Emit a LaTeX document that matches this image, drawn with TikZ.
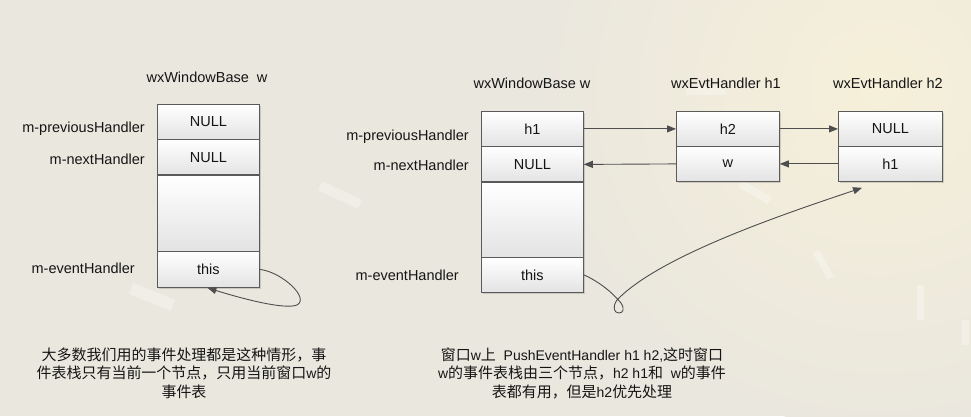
\documentclass[tikz,border=0pt]{standalone}
\usepackage{fontspec}
\setmainfont{Liberation Sans}
\newfontfamily\cjkfont[Scale=1.07]{Noto Sans CJK SC}
\newcommand\zh[1]{{\cjkfont #1}}
\usetikzlibrary{arrows.meta}

\definecolor{bgc}{HTML}{EAE7DE}
\definecolor{cream}{HTML}{F6F0DA}
\definecolor{boxline}{HTML}{5A5A5A}
\definecolor{cellbot}{HTML}{E3E3E3}
\definecolor{ink}{HTML}{151515}
\definecolor{wire}{HTML}{4E4E4E}

\begin{document}
\begin{tikzpicture}[x=1pt,y=-1pt,
  lab/.style={font=\fontsize{14.5}{16}\selectfont, text=ink, inner sep=0pt},
  cell/.style={draw=boxline, line width=0.8pt, top color=white, bottom color=cellbot,
    minimum width=102pt, inner sep=0pt, anchor=north west,
    font=\fontsize{14.5}{16}\selectfont, text=ink},
  shadowbox/.style={fill=black, opacity=0.14},
  streak/.style={fill=white, opacity=0.3},
  arr/.style={draw=wire, line width=0.9pt, -{Triangle[length=9pt,width=7pt]}},
  note/.style={align=center, text=ink, inner sep=0pt,
    font=\fontsize{14}{18.5}\selectfont}]

% background
\useasboundingbox (0,0) rectangle (971,416);
\fill[bgc] (0,0) rectangle (971,416);
\begin{scope}
\clip (0,0) rectangle (971,416);
\shade[inner color=cream, outer color=bgc] (880,90) circle (340);
\end{scope}
% decorative streaks
\fill[streak, rotate around={-22:(150,295)}] (130,290) rectangle (175,302);
\fill[streak, rotate around={-25:(340,195)}] (318,190) rectangle (362,200);
\fill[streak] (686,86) rectangle (726,95);
\fill[streak, rotate around={-30:(755,192)}] (738,188) rectangle (772,196);
\fill[streak, rotate around={-60:(823,265)}] (808,261) rectangle (838,268);
\fill[streak] (917,285) rectangle (924,320);
\fill[streak] (962,320) rectangle (969,345);

% shadows
\fill[shadowbox] (159,106) rectangle (261,289);
\fill[shadowbox] (483,113) rectangle (585,294);
\fill[shadowbox] (678,113) rectangle (781,183);
\fill[shadowbox] (840,113) rectangle (944,183);

% left block
\node[lab] (tL) at (207,77) {wxWindowBase\ \ w};
\node[cell, minimum height=35pt] (L1) at (157,104) {NULL};
\node[cell, minimum height=36pt] (L2) at (157,139) {NULL};
\node[cell, minimum height=76pt] (L3) at (157,175) {};
\node[cell, minimum height=36pt] (L4) at (157,251) {this};
\draw[boxline, line width=1.8pt] (L3.north west) -- (L3.north east);
\node[lab, anchor=east] (lL1) at (145,129) {m-previousHandler};
\node[lab, anchor=east] (lL2) at (145,159) {m-nextHandler};
\node[lab, anchor=east] (lL4) at (135,268) {m-eventHandler};

% middle block
\node[lab] (tM) at (532,83) {wxWindowBase w};
\node[cell, minimum height=35pt] (M1) at (481,111) {h1};
\node[cell, minimum height=36pt] (M2) at (481,146) {NULL};
\node[cell, minimum height=75pt] (M3) at (481,182) {};
\node[cell, minimum height=35pt] (M4) at (481,257) {this};
\draw[boxline, line width=1.8pt] (M3.north west) -- (M3.north east);
\node[lab, anchor=east] (lM1) at (469,137) {m-previousHandler};
\node[lab, anchor=east] (lM2) at (469,165) {m-nextHandler};
\node[lab, anchor=east] (lM4) at (459,275) {m-eventHandler};

% h1
\node[lab] (tH1) at (726,83) {wxEvtHandler h1};
\node[cell, minimum width=103pt, minimum height=35pt] (H1a) at (676,111) {h2};
\node[cell, minimum width=103pt, minimum height=35pt] (H1b) at (676,146) {w};

% h2
\node[lab] (tH2) at (888,83) {wxEvtHandler h2};
\node[cell, minimum width=104pt, minimum height=35pt] (H2a) at (838,111) {NULL};
\node[cell, minimum width=104pt, minimum height=35pt] (H2b) at (838,146) {h1};

% connectors
\draw[arr] (M1.east) -- (H1a.west);
\draw[arr] (H1a.east) -- (H2a.west);
\draw[arr] (H2b.west) -- (H1b.east);
\draw[arr] (H1b.west) -- (M2.east);

\coordinate (selfend) at ([xshift=-1pt]L4.south);
\draw[arr] (L4.east) .. controls (282,272) and (310,298) .. (297,305)
  .. controls (284,310) and (240,298) .. (selfend);

\coordinate (tgt) at ([xshift=24pt,yshift=-6pt]H2b.south west);
\draw[arr] (M4.east) .. controls (598,281) and (612,292) .. (621,303)
  .. controls (625,309) and (623,313) .. (619,313)
  .. controls (614,313) and (612,307) .. (617,300)
  .. controls (660,255) and (790,212) .. (tgt);

% notes
\node[note] (n1) at (184,373) {\zh{大多数我们用的事件处理都是这种情形，事}\\
  \zh{件表栈只有当前一个节点，只用当前窗口}w\zh{的}\\
  \zh{事件表}};
\node[note] (n2) at (582,373) {\zh{窗口}w\zh{上}\ \ PushEventHandler h1 h2,\zh{这时窗口}\\
  w\zh{的事件表栈由三个节点，}h2 h1\zh{和}\ \ w\zh{的事件}\\
  \zh{表都有用，但是}h2\zh{优先处理}};
\end{tikzpicture}
\end{document}
